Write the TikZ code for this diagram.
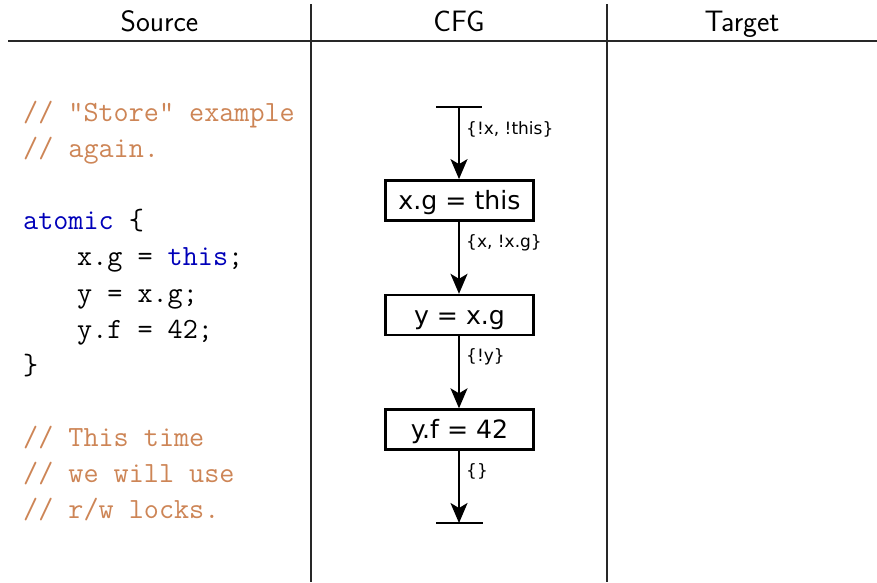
\documentclass[tikz,border=0pt]{standalone}
\usepackage{fontspec}
\newfontfamily\cfgfont{DejaVu Sans}
\usetikzlibrary{arrows.meta}
\definecolor{commentc}{RGB}{205,133,86}
\definecolor{keywordc}{RGB}{0,0,185}
\definecolor{rulec}{RGB}{40,40,40}
\begin{document}
\begin{tikzpicture}[x=1pt,y=-1pt,
  header/.style={font=\sffamily\fontsize{29.5}{34}\selectfont, anchor=base, inner sep=0pt},
  codeline/.style={font=\ttfamily\fontsize{29.3}{36}\selectfont, anchor=base west, inner sep=0pt},
  stmt/.style={draw, line width=2.4pt, minimum width=148pt, minimum height=40pt,
    inner sep=0pt, text height=20pt, text depth=2pt,
    font=\cfgfont\fontsize{25.2}{30}\selectfont},
  facts/.style={anchor=west, inner sep=0pt, font=\cfgfont\fontsize{17}{20}\selectfont},
  flow/.style={line width=2pt, -{Stealth[length=20pt,width=17pt,inset=5pt]}},
  endbar/.style={line width=2pt},
  tablerule/.style={line width=1.4pt, draw=rulec}]
\useasboundingbox (0,0) rectangle (877,582);

% table frame
\draw[tablerule] (8,41) -- (877,41);
\draw[tablerule] (311,4) -- (311,582);
\draw[tablerule] (607,4) -- (607,582);

% column headers
\node[header] (hsrc) at (159.5,31) {Source};
\node[header] (hcfg) at (459,31) {CFG};
\node[header] (htgt) at (742,31) {Target};

% source program
\node[codeline, text=commentc] (c1) at (23,121.7) {// "Store" example};
\node[codeline, text=commentc] (c2) at (23,157.8) {// again.};
\node[codeline] (c3) at (23,229.9) {\textcolor{keywordc}{atomic} \{};
\node[codeline] (c4) at (77,265.9) {x.g = \textcolor{keywordc}{this};};
\node[codeline] (c5) at (77,302) {y = x.g;};
\node[codeline] (c6) at (77,338) {y.f = 42;};
\node[codeline] (c7) at (23,374) {\}};
\node[codeline, text=commentc] (c8) at (23,446.2) {// This time};
\node[codeline, text=commentc] (c9) at (23,482.2) {// we will use};
\node[codeline, text=commentc] (c10) at (23,518.3) {// r/w locks.};

% control-flow graph
\coordinate (entry) at (459,106.5);
\coordinate (exit) at (459,523);
\node[stmt] (s1) at (459.5,200.3) {x.g = this};
\node[stmt] (s2) at (459.5,315) {y = x.g};
\node[stmt] (s3) at (459.5,429.5) {y.f = 42};

\draw[endbar] ([xshift=-23pt]entry) -- ([xshift=23pt]entry);
\draw[endbar] ([xshift=-23pt]exit) -- ([xshift=24pt]exit);

\draw[flow] (entry) -- (entry |- s1.north);
\draw[flow] (entry |- s1.south) -- (entry |- s2.north);
\draw[flow] (entry |- s2.south) -- (entry |- s3.north);
\draw[flow] (entry |- s3.south) -- (exit);

\node[facts] (f1) at (466,129) {\{!x, !this\}};
\node[facts] (f2) at (466,243) {\{x, !x.g\}};
\node[facts] (f3) at (466,357) {\{!y\}};
\node[facts] (f4) at (466,471) {\{\}};
\end{tikzpicture}
\end{document}
